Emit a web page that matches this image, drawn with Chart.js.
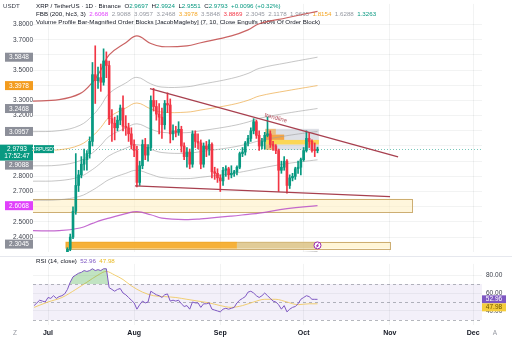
<!DOCTYPE html>
<html>
<head>
<meta charset="utf-8">
<script src="https://cdn.jsdelivr.net/npm/chart.js@4.4.1/dist/chart.umd.min.js"></script>
<style>
  html, body { margin: 0; padding: 0; background: #fff; }
  #wrap { position: relative; width: 512px; height: 345px; overflow: hidden; }
  #price { position: absolute; left: 0; top: 0; }
  #rsi { position: absolute; left: 0; top: 256px; }
</style>
</head>
<body>
<div id="wrap">
  <canvas id="price" width="512" height="256"></canvas>
  <canvas id="rsi" width="512" height="89"></canvas>
</div>
<script>
// XRP / TetherUS daily, 26 Jun - 6 Oct 2025 (day 0 = 1 Jul)
const startDay = -5;
const opens = [
  2.18, 2.10, 2.12, 2.15, 2.20, 2.18, 2.17, 2.26, 2.25, 2.20,
  2.22, 2.26, 2.24, 2.32, 2.40, 2.57, 2.74, 2.81, 2.88, 2.91,
  2.95, 3.03, 3.47, 3.43, 3.45, 3.42, 3.56, 3.53, 3.18, 3.15,
  3.12, 3.17, 3.25, 3.13, 3.12, 3.08, 3.01, 2.97, 2.76, 2.87,
  3.01, 2.94, 2.99, 3.30, 3.26, 3.21, 3.19, 3.14, 3.28, 3.27,
  3.08, 3.10, 3.09, 3.11, 3.00, 2.93, 2.96, 2.88, 3.08, 3.03,
  3.02, 2.88, 3.00, 2.98, 3.01, 2.83, 2.82, 2.79, 2.77, 2.84,
  2.85, 2.81, 2.82, 2.83, 2.86, 2.95, 2.96, 3.02, 3.05, 3.10,
  3.16, 3.07, 3.00, 3.03, 3.07, 3.08, 3.01, 3.00, 2.97, 2.84,
  2.86, 2.90, 2.74, 2.79, 2.80, 2.85, 2.86, 2.91, 2.97, 3.05,
  3.03, 2.97, 2.9697
];
const highs = [
  2.20, 2.14, 2.16, 2.22, 2.24, 2.21, 2.27, 2.29, 2.26, 2.23,
  2.27, 2.29, 2.33, 2.42, 2.60, 2.95, 2.84, 2.93, 2.98, 2.97,
  3.06, 3.55, 3.66, 3.52, 3.54, 3.64, 3.62, 3.56, 3.24, 3.19,
  3.20, 3.27, 3.33, 3.20, 3.15, 3.12, 3.04, 3.00, 2.90, 3.04,
  3.05, 3.01, 3.33, 3.38, 3.30, 3.28, 3.25, 3.30, 3.35, 3.31,
  3.14, 3.13, 3.16, 3.13, 3.02, 2.99, 2.98, 3.10, 3.10, 3.08,
  3.04, 3.02, 3.03, 3.04, 3.02, 2.86, 2.85, 2.81, 2.86, 2.87,
  2.86, 2.87, 2.84, 2.87, 2.96, 2.99, 3.03, 3.07, 3.12, 3.18,
  3.17, 3.10, 3.05, 3.09, 3.19, 3.10, 3.03, 3.01, 2.98, 2.90,
  2.93, 2.91, 2.81, 2.82, 2.86, 2.90, 2.92, 2.99, 3.10, 3.09,
  3.04, 3.02, 2.9924
];
const lows = [
  2.09, 2.08, 2.10, 2.13, 2.17, 2.13, 2.16, 2.22, 2.18, 2.19,
  2.20, 2.23, 2.23, 2.31, 2.39, 2.55, 2.70, 2.79, 2.84, 2.84,
  2.92, 3.00, 3.28, 3.38, 3.36, 3.40, 3.45, 3.14, 3.03, 3.04,
  3.10, 3.14, 3.10, 3.07, 3.03, 2.98, 2.93, 2.73, 2.74, 2.85,
  2.91, 2.90, 2.97, 3.23, 3.17, 3.08, 3.05, 3.11, 3.22, 3.02,
  3.04, 3.06, 3.07, 2.96, 2.91, 2.86, 2.85, 2.86, 2.99, 2.98,
  2.85, 2.86, 2.93, 2.94, 2.79, 2.78, 2.76, 2.70, 2.74, 2.80,
  2.78, 2.79, 2.80, 2.81, 2.85, 2.93, 2.94, 3.00, 3.03, 3.08,
  3.05, 2.97, 2.98, 2.98, 3.06, 2.99, 2.97, 2.95, 2.70, 2.82,
  2.84, 2.69, 2.72, 2.77, 2.78, 2.82, 2.81, 2.90, 2.96, 2.99,
  2.96, 2.93, 2.9551
];
const closes = [
  2.10, 2.12, 2.15, 2.20, 2.18, 2.17, 2.26, 2.25, 2.20, 2.22,
  2.26, 2.24, 2.32, 2.40, 2.57, 2.74, 2.81, 2.88, 2.91, 2.95,
  3.03, 3.47, 3.43, 3.45, 3.42, 3.56, 3.53, 3.18, 3.15, 3.12,
  3.17, 3.25, 3.13, 3.12, 3.08, 3.01, 2.97, 2.76, 2.87, 3.01,
  2.94, 2.99, 3.30, 3.26, 3.21, 3.19, 3.14, 3.28, 3.27, 3.08,
  3.10, 3.09, 3.11, 3.00, 2.93, 2.96, 2.88, 3.08, 3.03, 3.02,
  2.88, 3.00, 2.98, 3.01, 2.83, 2.82, 2.79, 2.77, 2.84, 2.85,
  2.81, 2.82, 2.83, 2.86, 2.95, 2.96, 3.02, 3.05, 3.10, 3.16,
  3.07, 3.00, 3.03, 3.07, 3.08, 3.01, 3.00, 2.97, 2.84, 2.86,
  2.90, 2.74, 2.79, 2.80, 2.85, 2.86, 2.91, 2.97, 3.05, 3.03,
  2.97, 2.9697, 2.9793
];

// RSI (14, close) and its moving average
const rsiValues = [
  46, 49, 52, 51, 50,
  55, 54, 57, 54, 56, 57, 59, 64, 72, 78,
  80, 82, 83, 85, 84, 85, 87, 85, 86, 85,
  87, 87, 66, 64, 62, 64, 65, 60, 58, 55,
  52, 49, 42, 47, 51, 49, 50, 62, 60, 58,
  57, 55, 58, 59, 51, 52, 51, 52, 48, 45,
  46, 42, 50, 49, 49, 44, 48, 48, 49, 42,
  41, 40, 39, 42, 43, 42, 43, 44, 49, 52,
  54, 56, 61, 62, 60, 57, 55, 57, 60, 57,
  54, 51, 50, 47, 42, 46, 39, 42, 44, 45,
  48, 53, 55, 57, 56, 53, 53, 52.96
];
const rsiMaDays = [-5, 0, 5, 10, 14, 18, 21, 24, 27, 30, 34, 38, 42, 46, 50, 54, 58, 62, 66, 70, 74, 78, 82, 86, 90, 94, 97];
const rsiMaValues = [44, 50, 55, 64, 72, 80, 84, 80, 75, 68, 61, 57, 56, 55, 53, 51, 49, 46, 44, 46, 50, 53, 53, 50, 47, 48, 47.98];

// Fibonacci Bollinger Bands (200, hlc3, 3)
const fbbDays   = [-6, 4, 11.5, 16, 19, 22, 28, 32, 37, 41, 50, 55, 66, 72, 76, 86, 97];
const fbbBasis  = [2.442, 2.442, 2.46, 2.49, 2.51, 2.525, 2.555, 2.567, 2.547, 2.525, 2.515, 2.52, 2.538, 2.55, 2.558, 2.587, 2.607];
const fbbUp236  = [2.643, 2.646, 2.669, 2.709, 2.744, 2.779, 2.820, 2.840, 2.813, 2.792, 2.785, 2.794, 2.818, 2.837, 2.852, 2.884, 2.909];
const fbbUp382  = [2.768, 2.772, 2.798, 2.845, 2.888, 2.936, 2.985, 3.009, 2.978, 2.957, 2.952, 2.963, 2.991, 3.014, 3.034, 3.068, 3.096];
const fbbUp500  = [2.869, 2.874, 2.903, 2.955, 3.005, 3.063, 3.118, 3.146, 3.111, 3.090, 3.088, 3.100, 3.132, 3.158, 3.182, 3.216, 3.247];
const fbbUp618  = [2.969, 2.975, 3.007, 3.065, 3.122, 3.189, 3.250, 3.283, 3.244, 3.223, 3.223, 3.237, 3.272, 3.301, 3.329, 3.364, 3.398];
const fbbUp764  = [3.094, 3.101, 3.136, 3.200, 3.266, 3.346, 3.415, 3.452, 3.409, 3.388, 3.390, 3.406, 3.445, 3.478, 3.511, 3.548, 3.585];
const fbbUp1000 = [3.295, 3.305, 3.345, 3.420, 3.500, 3.600, 3.680, 3.725, 3.675, 3.655, 3.660, 3.680, 3.725, 3.765, 3.805, 3.845, 3.887];
const fbbLo236  = [2.241, 2.238, 2.251, 2.271, 2.276, 2.271, 2.290, 2.294, 2.281, 2.258, 2.245, 2.246, 2.258, 2.263, 2.264, 2.290, 2.305];
const fbbLegend = [2.6068, 2.9088, 3.0957, 3.2468, 3.3978, 3.5848, 3.8869, 2.3045, 2.1178, 1.9665, 1.8154, 1.6288, 1.3263];

// hand-drawn trendlines
const trendUpperDays = [36.7, 126];
const trendUpperPrices = [3.378, 2.929];
const trendLowerDays = [31.3, 123.1];
const trendLowerPrices = [2.737, 2.666];

// order blocks and their volume profile rows
const zoneStart  = [-6, 6.3, 78.2];
const zoneEnd    = [131, 123, 97.5];
const zoneTop    = [2.652, 2.369, 3.113];
const zoneBottom = [2.565, 2.324, 2.974];
const rowStart  = [6.3, 68, 78.2, 78.2, 78.2, 78.2];
const rowEnd    = [68, 97, 82, 85, 97.5, 81];
const rowTop    = [2.369, 2.369, 3.113, 3.075, 3.040, 3.010];
const rowBottom = [2.324, 2.324, 3.075, 3.040, 3.010, 2.974];

// axes
const monthDays = [0, 31, 62, 92, 123, 153];
const monthNames = ['Jul', 'Aug', 'Sep', 'Oct', 'Nov', 'Dec'];
const priceTicks = [2.4, 2.5, 2.6, 2.7, 2.8, 2.9, 3.0, 3.1, 3.2, 3.3, 3.4, 3.5, 3.6, 3.7, 3.8];
const rsiTicks = [40, 60, 80];
const rsiLevels = [70, 50, 30];
const lastPrice = 2.9793;
const lastRsi = 52.96;
const lastRsiMa = 47.98;

const FONT = "'Liberation Sans', Arial, sans-serif";
const UP = '#089981';
const DOWN = '#f23645';
const GRID = 'rgba(42,46,57,0.06)';
const X_MIN = -5.4, X_MAX = 156.2;

const dayOf = i => startDay + i;
const candleColors = closes.map((c, i) => c >= opens[i] ? UP : DOWN);
const pts = (xs, ys) => xs.map((x, i) => ({ x, y: ys[i] }));

function bandLine(values, color, width) {
  return {
    type: 'line', data: pts(fbbDays, values), borderColor: color, borderWidth: width || 1,
    pointRadius: 0, tension: 0.4, order: 10
  };
}

function priceAxisLabels(chart) {
  const y = chart.scales.y;
  const ctx = chart.ctx;
  const area = chart.chartArea;
  const boxes = [
    { v: 3.5848, bg: '#8c8f99' }, { v: 3.3978, bg: '#f39c1f' }, { v: 3.2468, bg: '#8c8f99' },
    { v: 3.0957, bg: '#8c8f99' }, { v: 2.9088, bg: '#8c8f99' }, { v: 2.6068, bg: '#e040fb' },
    { v: 2.3045, bg: '#8c8f99' }
  ];
  ctx.save();
  ctx.font = '6.5px ' + FONT;
  ctx.textAlign = 'center';
  ctx.textBaseline = 'middle';
  // last price with bar countdown
  const py = y.getPixelForValue(lastPrice);
  const curTop = py - 4.5, curBottom = py + 11.5;
  ctx.fillStyle = UP;
  ctx.fillRect(0, curTop, 33, curBottom - curTop);
  ctx.fillStyle = '#fff';
  ctx.fillText(lastPrice.toFixed(4), 17, py);
  ctx.fillText('17:52:47', 17, py + 7.5);
  ctx.fillStyle = UP;
  ctx.fillRect(34, py - 4, 20, 8);
  ctx.fillStyle = '#fff';
  ctx.font = '5px ' + FONT;
  ctx.fillText('XRPUSDT', 44, py + 0.3);
  ctx.font = '6.5px ' + FONT;
  for (const b of boxes) {
    let c = y.getPixelForValue(b.v);
    if (c + 4.5 > curTop && c - 4.5 < curBottom) c = curBottom + 4.5;
    c = Math.min(c, area.bottom - 8);
    ctx.fillStyle = b.bg;
    ctx.fillRect(5, c - 4.5, 28, 9);
    ctx.fillStyle = '#fff';
    ctx.fillText(b.v.toFixed(4), 19, c + 0.3);
  }
  ctx.restore();
}

function drawSegments(ctx, x, y, parts) {
  for (const [text, color] of parts) {
    ctx.fillStyle = color;
    ctx.fillText(text, x, y);
    x += ctx.measureText(text).width;
  }
}

const pricePlugin = {
  id: 'pricePane',
  beforeDatasetsDraw(chart) {
    const { ctx, chartArea: a, scales: { x, y } } = chart;
    ctx.save();
    ctx.beginPath();
    ctx.rect(a.left, a.top, a.right - a.left, a.bottom - a.top);
    ctx.clip();
    const zoneFill = ['rgba(255,238,186,0.5)', 'rgba(255,238,186,0.6)', 'rgba(160,166,184,0.35)'];
    const zoneLine = ['rgba(200,165,100,0.9)', 'rgba(200,165,100,0.9)', null];
    zoneStart.forEach((s, i) => {
      const x0 = x.getPixelForValue(s), x1 = x.getPixelForValue(zoneEnd[i]);
      const y0 = y.getPixelForValue(zoneTop[i]), y1 = y.getPixelForValue(zoneBottom[i]);
      ctx.fillStyle = zoneFill[i];
      ctx.fillRect(x0, y0, x1 - x0, y1 - y0);
      if (zoneLine[i]) {
        ctx.strokeStyle = zoneLine[i];
        ctx.lineWidth = 1;
        ctx.strokeRect(Math.round(x0) + 0.5, Math.round(y0) + 0.5, Math.round(x1 - x0), Math.round(y1 - y0));
      }
    });
    const rowFill = ['rgba(245,170,40,0.9)', 'rgba(215,190,130,0.75)', 'rgba(255,152,0,0.45)',
                     'rgba(255,140,0,0.7)', 'rgba(255,214,70,0.9)', 'rgba(255,152,0,0.45)'];
    rowStart.forEach((s, i) => {
      const x0 = x.getPixelForValue(s), x1 = x.getPixelForValue(rowEnd[i]);
      const y0 = y.getPixelForValue(rowTop[i]), y1 = y.getPixelForValue(rowBottom[i]);
      ctx.fillStyle = rowFill[i];
      ctx.fillRect(x0, y0, x1 - x0, y1 - y0);
    });
    // last price line
    const py = Math.round(y.getPixelForValue(lastPrice)) + 0.5;
    ctx.strokeStyle = 'rgba(8,153,129,0.55)';
    ctx.setLineDash([1, 2]);
    ctx.beginPath();
    ctx.moveTo(a.left, py);
    ctx.lineTo(a.right, py);
    ctx.stroke();
    ctx.restore();

    // legend
    ctx.save();
    ctx.font = '6.2px ' + FONT;
    ctx.textBaseline = 'middle';
    ctx.fillStyle = '#3b3f4a';
    ctx.fillText('USDT', 3, 6);
    const dark = '#131722';
    drawSegments(ctx, 36, 6, [
      ['XRP / TetherUS · 1D · Binance  ', dark], ['O', dark], ['2.9697', UP], ['  H', dark], ['2.9924', UP],
      ['  L', dark], ['2.9551', UP], ['  C', dark], ['2.9793', UP], ['  +0.0096 (+0.32%)', UP]
    ]);
    const legendColors = ['#e040fb', '#9598a1', '#9598a1', '#9598a1', '#f5a623', '#9598a1', '#f23645',
                          '#9598a1', '#9598a1', '#9598a1', '#f5a623', '#9598a1', '#089981'];
    const parts = [['FBB (200, hlc3, 3)', dark]];
    fbbLegend.forEach((v, i) => parts.push(['  ' + v.toFixed(4), legendColors[i]]));
    drawSegments(ctx, 36, 14, parts);
    drawSegments(ctx, 36, 22, [['Volume Profile Bar-Magnified Order Blocks [JacobMagleby] (7, 10, Close Engulfs 100% Of Order Block)', dark]]);
    ctx.restore();
  },
  afterDraw(chart) {
    const { ctx, scales: { x, y } } = chart;
    // trendline caption
    const x0 = x.getPixelForValue(trendUpperDays[0]), y0 = y.getPixelForValue(trendUpperPrices[0]);
    const x1 = x.getPixelForValue(trendUpperDays[1]), y1 = y.getPixelForValue(trendUpperPrices[1]);
    const ang = Math.atan2(y1 - y0, x1 - x0);
    const t = (x.getPixelForValue(81.5) - x0) / (x1 - x0);
    ctx.save();
    ctx.translate(x0 + t * (x1 - x0), y0 + t * (y1 - y0));
    ctx.rotate(ang);
    ctx.font = '6px ' + FONT;
    ctx.textAlign = 'center';
    ctx.textBaseline = 'bottom';
    ctx.fillStyle = '#b04a58';
    ctx.fillText('trendline', 0, -2);
    ctx.restore();
    // event marker
    const mx = x.getPixelForValue(97), my = y.getPixelForValue(2.345);
    ctx.save();
    ctx.fillStyle = '#fff';
    ctx.strokeStyle = '#9c27b0';
    ctx.lineWidth = 1;
    ctx.beginPath();
    ctx.arc(mx, my, 3.5, 0, Math.PI * 2);
    ctx.fill();
    ctx.stroke();
    ctx.beginPath();
    ctx.moveTo(mx + 1.2, my - 1.8);
    ctx.lineTo(mx - 1, my + 0.3);
    ctx.lineTo(mx + 1, my + 0.3);
    ctx.lineTo(mx - 1.2, my + 1.8);
    ctx.stroke();
    ctx.restore();
    priceAxisLabels(chart);
  }
};

new Chart(document.getElementById('price'), {
  type: 'bar',
  data: {
    datasets: [
      { type: 'line', data: pts(trendUpperDays, trendUpperPrices), borderColor: '#a8404f', borderWidth: 1.3, pointRadius: 0, order: 0 },
      { type: 'line', data: pts(trendLowerDays, trendLowerPrices), borderColor: '#a8404f', borderWidth: 1.3, pointRadius: 0, order: 0 },
      { data: closes.map((c, i) => ({ x: dayOf(i), y: [opens[i], c] })), backgroundColor: candleColors,
        barThickness: 2, minBarLength: 1, grouped: false, order: 1 },
      { data: lows.map((l, i) => ({ x: dayOf(i), y: [l, highs[i]] })), backgroundColor: candleColors,
        barThickness: 1, grouped: false, order: 2 },
      bandLine(fbbUp1000, 'rgba(196,82,82,0.9)', 1.2),
      bandLine(fbbUp764, 'rgba(160,160,160,0.6)'),
      bandLine(fbbUp618, 'rgba(236,170,70,0.7)'),
      bandLine(fbbUp500, 'rgba(160,160,160,0.6)'),
      bandLine(fbbUp382, 'rgba(160,160,160,0.6)'),
      bandLine(fbbUp236, 'rgba(160,160,160,0.6)'),
      bandLine(fbbBasis, 'rgba(186,80,200,0.85)', 1.2),
      bandLine(fbbLo236, 'rgba(160,160,160,0.6)')
    ]
  },
  options: {
    responsive: false,
    animation: false,
    devicePixelRatio: 1,
    events: [],
    layout: { padding: { left: 0, right: 30, top: 0, bottom: 1 } },
    plugins: { legend: { display: false }, tooltip: { enabled: false } },
    scales: {
      x: {
        type: 'linear', min: X_MIN, max: X_MAX, offset: false,
        grid: { color: GRID, drawTicks: false, offset: false },
        border: { display: false },
        ticks: { display: false },
        afterBuildTicks: s => { s.ticks = monthDays.map(v => ({ value: v })); },
        afterFit: s => { s.height = 0; }
      },
      y: {
        position: 'left', min: 2.301, max: 3.936,
        grid: { color: GRID, drawTicks: false },
        border: { display: false },
        afterBuildTicks: s => { s.ticks = priceTicks.map(v => ({ value: v })); },
        afterFit: s => { s.width = 33; },
        ticks: {
          crossAlign: 'center', padding: 0, color: '#3b3f4a', font: { size: 6.5, family: FONT },
          callback: v => [3.5848, 3.3978, 3.0957, 2.9793, 2.9088, 2.6068].some(l => Math.abs(l - v) < 0.045) ? '' : v.toFixed(4)
        }
      }
    }
  },
  plugins: [pricePlugin]
});

const rsiPlugin = {
  id: 'rsiPane',
  beforeDatasetsDraw(chart) {
    const { ctx, chartArea: a, scales: { y } } = chart;
    ctx.save();
    const top = y.getPixelForValue(rsiLevels[0]), bottom = y.getPixelForValue(rsiLevels[2]);
    ctx.fillStyle = 'rgba(126,87,194,0.09)';
    ctx.fillRect(a.left, top, a.right - a.left, bottom - top);
    ctx.strokeStyle = 'rgba(120,123,134,0.55)';
    ctx.lineWidth = 1;
    ctx.setLineDash([3, 3]);
    for (const lv of rsiLevels) {
      const py = Math.round(y.getPixelForValue(lv)) + 0.5;
      ctx.beginPath();
      ctx.moveTo(a.left, py);
      ctx.lineTo(a.right, py);
      ctx.stroke();
    }
    ctx.restore();
    ctx.save();
    ctx.strokeStyle = '#e6e8ee';
    ctx.beginPath();
    ctx.moveTo(0, 0.5);
    ctx.lineTo(chart.width, 0.5);
    ctx.stroke();
    ctx.font = '6.2px ' + FONT;
    ctx.textBaseline = 'middle';
    drawSegments(ctx, 36, 5, [['RSI (14, close)  ', '#131722'], [lastRsi.toFixed(2), '#7e57c2'], ['  ' + lastRsiMa.toFixed(2), '#e8b923']]);
    ctx.restore();
  },
  afterDraw(chart) {
    const { ctx, chartArea: a, scales: { y } } = chart;
    ctx.save();
    ctx.font = '6.5px ' + FONT;
    ctx.textAlign = 'center';
    ctx.textBaseline = 'middle';
    const c1 = y.getPixelForValue(lastRsi);
    ctx.fillStyle = '#7e57c2';
    ctx.fillRect(a.right, c1 - 4, 24, 8);
    ctx.fillStyle = '#fff';
    ctx.fillText(lastRsi.toFixed(2), a.right + 12, c1 + 0.3);
    const c2 = Math.max(y.getPixelForValue(lastRsiMa), c1 + 8);
    ctx.fillStyle = '#f5cd3c';
    ctx.fillRect(a.right, c2 - 4, 24, 8);
    ctx.fillStyle = '#6b5300';
    ctx.fillText(lastRsiMa.toFixed(2), a.right + 12, c2 + 0.3);
    ctx.fillStyle = '#9598a1';
    ctx.fillText('Z', 15, 77);
    ctx.fillText('A', 495, 77);
    ctx.restore();
  }
};

new Chart(document.getElementById('rsi'), {
  type: 'line',
  data: {
    datasets: [
      { data: rsiValues.map((v, i) => ({ x: dayOf(i), y: v })), borderColor: '#7e57c2', borderWidth: 1,
        pointRadius: 0, tension: 0, order: 1,
        fill: { target: { value: 70 }, above: 'rgba(76,175,80,0.35)', below: 'rgba(0,0,0,0)' } },
      { data: pts(rsiMaDays, rsiMaValues), borderColor: 'rgba(240,200,90,0.85)', borderWidth: 1,
        pointRadius: 0, cubicInterpolationMode: 'monotone', order: 2 }
    ]
  },
  options: {
    responsive: false,
    animation: false,
    devicePixelRatio: 1,
    events: [],
    layout: { padding: { left: 33, right: 0, top: 0, bottom: 0 } },
    plugins: { legend: { display: false }, tooltip: { enabled: false } },
    scales: {
      x: {
        type: 'linear', min: X_MIN, max: X_MAX,
        grid: { color: GRID, drawTicks: false },
        border: { display: false },
        afterBuildTicks: s => { s.ticks = monthDays.map(v => ({ value: v })); },
        afterFit: s => { s.height = 20; },
        ticks: {
          autoSkip: false, maxRotation: 0, padding: 4, color: '#131722',
          font: { size: 7, weight: 'bold', family: FONT },
          callback: v => monthNames[monthDays.indexOf(v)]
        }
      },
      y: {
        position: 'right', min: 24.4, max: 92.4,
        grid: { color: GRID, drawTicks: false },
        border: { display: false },
        afterBuildTicks: s => { s.ticks = rsiTicks.map(v => ({ value: v })); },
        afterFit: s => { s.width = 30; },
        ticks: { padding: 4, color: '#3b3f4a', font: { size: 6.5, family: FONT }, callback: v => v.toFixed(2) }
      }
    }
  },
  plugins: [rsiPlugin]
});
</script>
</body>
</html>
